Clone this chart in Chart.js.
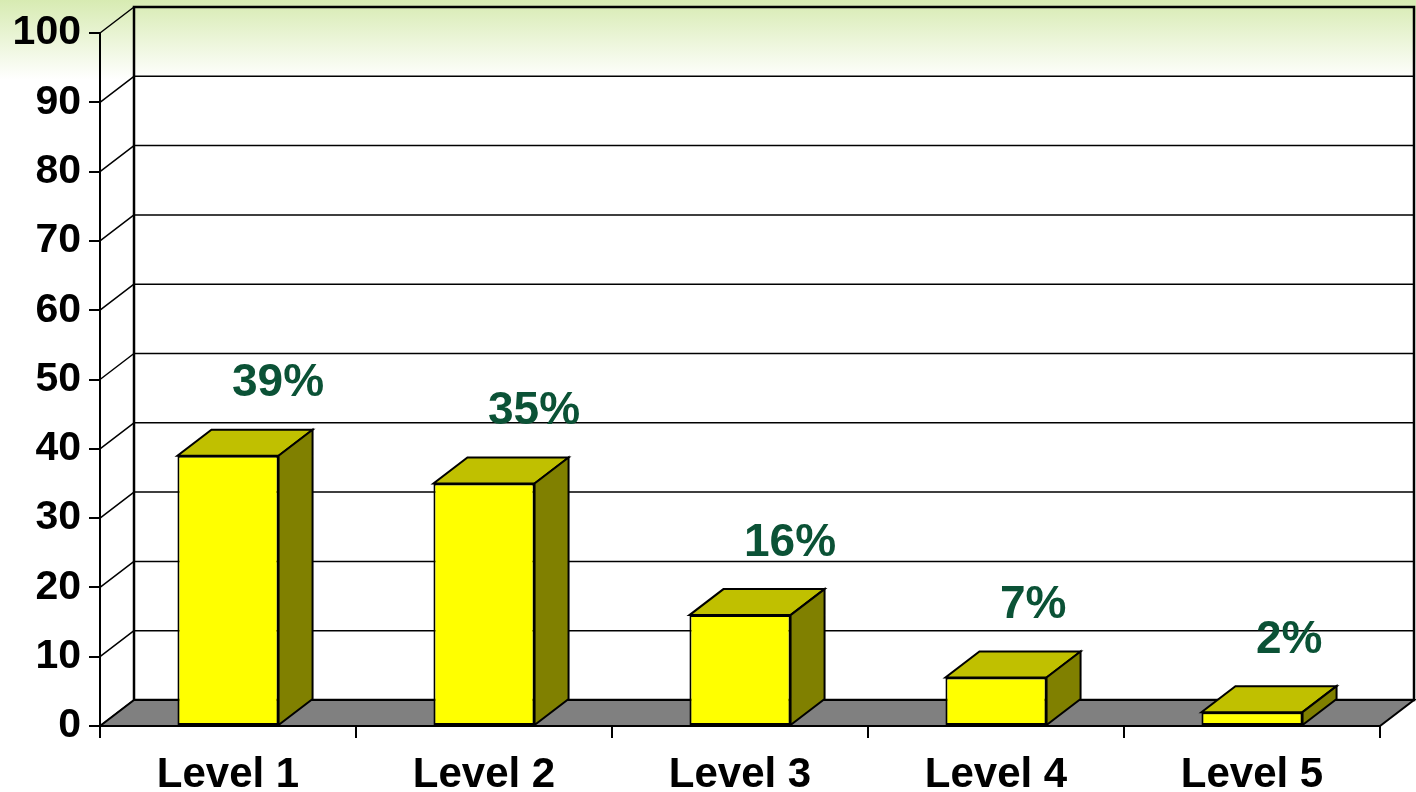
<!DOCTYPE html>
<html>
<head>
<meta charset="utf-8">
<script src="https://cdn.jsdelivr.net/npm/chart.js@4.4.0/dist/chart.umd.min.js"></script>
<style>
html, body { margin: 0; padding: 0; background: #fff; }
</style>
</head>
<body>
<canvas id="chart_levels" width="1416" height="792"></canvas>
<script>
// data
var categories = ['Level 1', 'Level 2', 'Level 3', 'Level 4', 'Level 5'];
var percentages = [39, 35, 16, 7, 2];
var yTickValues = [0, 10, 20, 30, 40, 50, 60, 70, 80, 90, 100];

// depth of the fake 3d box
var DX = 34, DY = -26;

var fontFamily = 'Arial, "Liberation Sans", sans-serif';

function poly(ctx, pts, fill, stroke, lw){
    ctx.beginPath();
    ctx.moveTo(pts[0][0], pts[0][1]);
    for (var i = 1; i < pts.length; i++) ctx.lineTo(pts[i][0], pts[i][1]);
    ctx.closePath();
    if (fill) { ctx.fillStyle = fill; ctx.fill(); }
    if (stroke) { ctx.strokeStyle = stroke; ctx.lineWidth = lw || 2; ctx.lineJoin = 'miter'; ctx.stroke(); }
}

var boxPlugin = {
    id: 'box3d',
    beforeDraw: function(chart){
        var ctx = chart.ctx, a = chart.chartArea, y = chart.scales.y;
        ctx.save();
        // slide background
        var g = ctx.createLinearGradient(0, 0, 0, 80);
        g.addColorStop(0, '#d7ebb2');
        g.addColorStop(1, '#ffffff');
        ctx.fillStyle = '#ffffff';
        ctx.fillRect(0, 0, chart.width, chart.height);
        ctx.fillStyle = g;
        ctx.fillRect(0, 0, chart.width, 80);

        // back wall grid + left wall diagonals
        ctx.strokeStyle = '#000';
        ctx.lineWidth = 1.5;
        yTickValues.forEach(function(v){
            var py = y.getPixelForValue(v);
            ctx.beginPath();
            ctx.moveTo(a.left + DX, py + DY);
            ctx.lineTo(a.right + DX, py + DY);
            ctx.moveTo(a.left, py);
            ctx.lineTo(a.left + DX, py + DY);
            ctx.stroke();
        });

        // back wall outline
        ctx.lineWidth = 2.5;
        ctx.strokeRect(a.left + DX, a.top + DY, a.right - a.left, a.bottom - a.top);

        // floor
        poly(ctx, [[a.left, a.bottom], [a.right, a.bottom], [a.right + DX, a.bottom + DY], [a.left + DX, a.bottom + DY]], '#808080', '#000', 2);
        ctx.restore();
    },
    afterDatasetsDraw: function(chart){
        var ctx = chart.ctx;
        var meta = chart.getDatasetMeta(0);
        ctx.save();
        meta.data.forEach(function(bar, i){
            var p = bar.getProps(['x', 'y', 'base', 'width'], true);
            var l = p.x - p.width / 2, r = p.x + p.width / 2;
            poly(ctx, [[l, p.y], [r, p.y], [r + DX, p.y + DY], [l + DX, p.y + DY]], '#c0c000', '#000', 2);
            poly(ctx, [[r, p.y], [r + DX, p.y + DY], [r + DX, p.base + DY], [r, p.base]], '#808000', '#000', 2);

            ctx.fillStyle = '#0b5236';
            ctx.font = 'bold 46px ' + fontFamily;
            ctx.textAlign = 'left';
            ctx.textBaseline = 'middle';
            ctx.fillText(percentages[i] + '%', p.x + 4, p.y - 72);
        });
        ctx.restore();
    }
};

var ctx = document.getElementById('chart_levels');
var myChart = new Chart(ctx, {
    type: 'bar',
    data: {
        labels: categories,
        datasets: [{
            data: percentages,
            backgroundColor: '#ffff00',
            borderColor: '#000000',
            borderWidth: 2,
            borderSkipped: false,
            categoryPercentage: 1,
            barPercentage: 0.395
        }]
    },
    options: {
        responsive: false,
        animation: false,
        layout: { padding: { top: 33, right: 36, left: 0, bottom: 0 } },
        plugins: { legend: { display: false }, tooltip: { enabled: false } },
        scales: {
            y: {
                min: 0,
                max: 100,
                afterFit: function(scale){ scale.width = 100; },
                ticks: { stepSize: 10, color: '#000', padding: 8, font: { family: fontFamily, size: 41, weight: 'bold' } },
                grid: { drawOnChartArea: false, tickLength: 11, color: '#000', lineWidth: 2 },
                border: { color: '#000', width: 2 }
            },
            x: {
                afterFit: function(scale){ scale.height = 66; },
                ticks: { color: '#000', padding: 12, font: { family: fontFamily, size: 42, weight: 'bold' } },
                grid: { drawOnChartArea: false, offset: true, tickLength: 12, color: '#000', lineWidth: 2 },
                border: { color: '#000', width: 2 }
            }
        }
    },
    plugins: [boxPlugin]
});
</script>
</body>
</html>
